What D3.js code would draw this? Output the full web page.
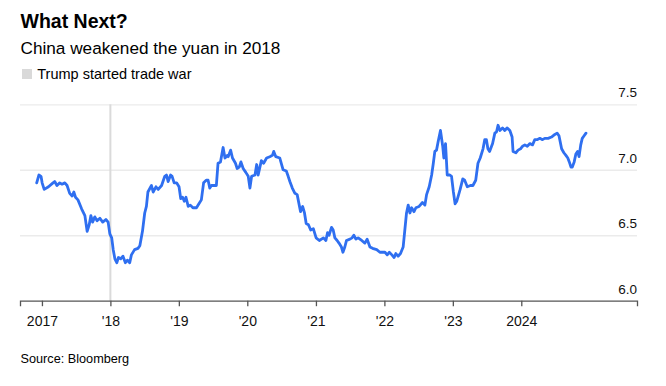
<!DOCTYPE html>
<html>
<head>
<meta charset="utf-8">
<script src="https://cdn.jsdelivr.net/npm/d3@7"></script>
<style>
  html, body { margin: 0; padding: 0; background: #fff; }
  svg { display: block; font-family: "Liberation Sans", Arial, sans-serif; }
  .grid line { stroke: #ebebeb; stroke-width: 1.3; }
  .grid .domain { display: none; }
  .axis text { fill: #111; }
  .axis-y text { font-size: 13.5px; }
  .axis-x text { font-size: 14px; }
</style>
</head>
<body>
<div id="chart"></div>
<script>
// USD/CNY
const dates = [
  "2016-12-04","2016-12-16","2016-12-27","2017-01-02","2017-01-13","2017-02-05","2017-03-01","2017-03-10",
  "2017-03-22","2017-04-06","2017-04-18","2017-05-03","2017-05-15","2017-05-29","2017-06-11","2017-06-20",
  "2017-06-29","2017-07-12","2017-08-01","2017-08-18","2017-08-30","2017-09-10","2017-09-19","2017-09-28",
  "2017-10-10","2017-10-22","2017-11-06","2017-11-21","2017-12-08","2017-12-20","2017-12-29","2018-01-08",
  "2018-01-16","2018-01-25","2018-02-04","2018-02-13","2018-02-25","2018-03-09","2018-03-22","2018-04-02",
  "2018-04-14","2018-04-23","2018-05-10","2018-05-28","2018-06-07","2018-06-21","2018-07-03","2018-07-12",
  "2018-07-20","2018-08-08","2018-08-17","2018-09-01","2018-09-13","2018-10-01","2018-10-18","2018-10-27",
  "2018-11-05","2018-11-18","2018-11-26","2018-12-07","2018-12-20","2019-01-02","2019-01-11","2019-01-21",
  "2019-01-30","2019-02-08","2019-02-20","2019-03-03","2019-03-17","2019-04-05","2019-04-18","2019-05-01",
  "2019-05-13","2019-05-27","2019-06-06","2019-06-15","2019-06-24","2019-07-02","2019-07-20","2019-07-29",
  "2019-08-11","2019-08-25","2019-09-04","2019-09-16","2019-09-21","2019-10-04","2019-10-14","2019-10-30",
  "2019-11-08","2019-11-19","2019-11-28","2019-12-10","2019-12-24","2020-01-06","2020-01-15","2020-01-24",
  "2020-02-11","2020-02-20","2020-02-28","2020-03-16","2020-03-28","2020-04-13","2020-04-30","2020-05-14",
  "2020-05-21","2020-06-01","2020-06-22","2020-07-10","2020-07-27","2020-08-06","2020-08-15","2020-08-28",
  "2020-09-11","2020-09-23","2020-10-04","2020-10-11","2020-10-22","2020-11-01","2020-11-10","2020-11-22",
  "2020-12-04","2020-12-18","2021-01-02","2021-01-19","2021-02-10","2021-02-23","2021-03-04","2021-03-12",
  "2021-03-25","2021-04-03","2021-04-12","2021-04-24","2021-05-04","2021-05-17","2021-05-25","2021-06-04",
  "2021-06-13","2021-07-01","2021-07-13","2021-07-22","2021-08-02","2021-08-14","2021-09-02","2021-09-19",
  "2021-10-01","2021-10-16","2021-10-30","2021-11-21","2021-12-08","2022-01-04","2022-01-16","2022-01-27",
  "2022-02-10","2022-02-22","2022-03-03","2022-03-15","2022-03-28","2022-04-11","2022-04-20","2022-04-29",
  "2022-05-08","2022-05-17","2022-05-26","2022-06-08","2022-06-18","2022-07-05","2022-07-23","2022-08-05",
  "2022-08-14","2022-08-28","2022-09-10","2022-09-18","2022-09-27","2022-10-06","2022-10-14","2022-10-27",
  "2022-11-08","2022-11-14","2022-11-23","2022-12-02","2022-12-16","2022-12-25","2023-01-04","2023-01-13",
  "2023-01-22","2023-02-09","2023-02-23","2023-03-05","2023-03-19","2023-04-05","2023-04-18","2023-05-03",
  "2023-05-15","2023-05-27","2023-06-11","2023-06-20","2023-06-29","2023-07-07","2023-07-16","2023-08-01",
  "2023-08-13","2023-08-22","2023-08-30","2023-09-09","2023-09-23","2023-10-05","2023-10-17","2023-11-01",
  "2023-11-13","2023-11-18","2023-12-03","2023-12-15","2023-12-28","2024-01-08","2024-01-20","2024-02-02",
  "2024-02-16","2024-03-01","2024-03-13","2024-03-25","2024-04-09","2024-04-23","2024-05-05","2024-05-23",
  "2024-06-10","2024-06-28","2024-07-10","2024-07-20","2024-08-03","2024-08-15","2024-08-26","2024-09-05",
  "2024-09-13","2024-09-22","2024-09-29","2024-10-09","2024-10-18","2024-10-27","2024-11-04","2024-11-13",
  "2024-11-21","2024-12-01","2024-12-11"
];

const usdCny = [
  6.90, 6.96, 6.95, 6.90, 6.85, 6.87, 6.90, 6.91,
  6.88, 6.90, 6.89, 6.90, 6.88, 6.82, 6.80, 6.83,
  6.79, 6.77, 6.70, 6.65, 6.53, 6.58, 6.65, 6.60,
  6.64, 6.61, 6.63, 6.60, 6.62, 6.60, 6.51, 6.48,
  6.39, 6.32, 6.29, 6.33, 6.32, 6.34, 6.29, 6.31,
  6.29, 6.35, 6.39, 6.40, 6.42, 6.53, 6.67, 6.72,
  6.83, 6.88, 6.83, 6.87, 6.85, 6.88, 6.95, 6.96,
  6.91, 6.96, 6.95, 6.90, 6.90, 6.87, 6.78, 6.79,
  6.76, 6.79, 6.72, 6.73, 6.71, 6.71, 6.74, 6.77,
  6.90, 6.92, 6.92, 6.86, 6.88, 6.88, 6.88, 7.05,
  7.06, 7.17, 7.09, 7.11, 7.10, 7.15, 7.09, 7.05,
  7.01, 7.02, 7.06, 7.01, 6.98, 6.95, 6.86, 6.95,
  6.96, 7.04, 6.96, 7.07, 7.05, 7.09, 7.10, 7.11,
  7.14, 7.10, 7.09, 7.00, 6.99, 6.95, 6.91, 6.86,
  6.82, 6.81, 6.73, 6.68, 6.72, 6.67, 6.59, 6.58,
  6.54, 6.55, 6.48, 6.46, 6.48, 6.46, 6.52, 6.50,
  6.56, 6.54, 6.48, 6.46, 6.44, 6.41, 6.37, 6.41,
  6.46, 6.47, 6.48, 6.50, 6.47, 6.48, 6.46, 6.44,
  6.47, 6.41, 6.40, 6.39, 6.37, 6.37, 6.35, 6.37,
  6.35, 6.33, 6.36, 6.34, 6.36, 6.41, 6.54, 6.67,
  6.73, 6.67, 6.71, 6.68, 6.71, 6.72, 6.75, 6.73,
  6.81, 6.87, 6.96, 7.04, 7.14, 7.15, 7.21, 7.30,
  7.18, 7.09, 7.20, 6.96, 6.96, 6.95, 6.83, 6.74,
  6.76, 6.85, 6.93, 6.92, 6.87, 6.88, 6.88, 6.92,
  7.05, 7.09, 7.16, 7.23, 7.23, 7.16, 7.14, 7.20,
  7.28, 7.29, 7.34, 7.30, 7.32, 7.30, 7.32, 7.30,
  7.25, 7.14, 7.13, 7.15, 7.16, 7.18, 7.19, 7.18,
  7.20, 7.19, 7.23, 7.23, 7.24, 7.23, 7.24, 7.24,
  7.25, 7.27, 7.28, 7.26, 7.16, 7.13, 7.11, 7.09,
  7.06, 7.02, 7.02, 7.06, 7.12, 7.14, 7.10, 7.19,
  7.24, 7.26, 7.28
];

const xTickDates = ["2017-01-01","2018-01-01","2019-01-01","2020-01-01","2021-01-01","2022-01-01","2023-01-01","2024-01-01"];
const xTickLabels = ["2017", "'18", "'19", "'20", "'21", "'22", "'23", "2024"];
const yTicks = [6.0, 6.5, 7.0, 7.5];
const tradeWarDate = "2018-01-01";
const xDomain = ["2016-09-06", "2025-09-09"];

const title = "What Next?";
const subtitle = "China weakened the yuan in 2018";
const legendLabel = "Trump started trade war";
const source = "Source: Bloomberg";

const width = 666;
const height = 386;
const margin = { top: 104.3, right: 29, bottom: 85.3, left: 20 };
const innerWidth = width - margin.left - margin.right;
const innerHeight = height - margin.top - margin.bottom;

const parse = d3.utcParse("%Y-%m-%d");
const data = dates.map((d, i) => ({ date: parse(d), value: usdCny[i] }));

const svg = d3.select("#chart")
  .append("svg")
  .attr("width", width)
  .attr("height", height);

svg.append("text")
  .attr("x", 20.5)
  .attr("y", 28.3)
  .attr("font-size", 19.5)
  .attr("font-weight", "bold")
  .attr("fill", "#000")
  .text(title);

svg.append("text")
  .attr("x", 20.5)
  .attr("y", 54.3)
  .attr("font-size", 17.2)
  .attr("fill", "#000")
  .text(subtitle);

svg.append("rect")
  .attr("x", 22)
  .attr("y", 69)
  .attr("width", 10)
  .attr("height", 10)
  .attr("fill", "#d9d9d9");

svg.append("text")
  .attr("x", 37.3)
  .attr("y", 78.7)
  .attr("font-size", 14.5)
  .attr("fill", "#000")
  .text(legendLabel);

svg.append("text")
  .attr("x", 20.5)
  .attr("y", 362.7)
  .attr("font-size", 12.7)
  .attr("fill", "#000")
  .text(source);

const plot = svg.append("g").attr("transform", `translate(${margin.left}, ${margin.top})`);

const x = d3.scaleUtc()
  .domain(xDomain.map(parse))
  .range([0, innerWidth]);

const y = d3.scaleLinear()
  .domain([6.0, 7.5])
  .range([innerHeight, 0]);

// gridlines (6.0 is covered by the axis line)
plot.append("g")
  .attr("class", "grid")
  .call(d3.axisLeft(y).tickValues(yTicks.filter((t) => t > 6)).tickSize(-innerWidth).tickFormat(""));

// y labels sit above their gridlines, flush right
const yAxisG = plot.append("g")
  .attr("class", "axis axis-y")
  .attr("transform", `translate(${innerWidth}, 0)`)
  .call(d3.axisRight(y).tickValues(yTicks).tickSize(0).tickFormat(d3.format(".1f")));
yAxisG.select(".domain").remove();
yAxisG.selectAll("text")
  .attr("x", 0)
  .attr("y", 0)
  .attr("dy", -7.6)
  .attr("text-anchor", "end");

// trade war marker
plot.append("line")
  .attr("x1", x(parse(tradeWarDate)))
  .attr("x2", x(parse(tradeWarDate)))
  .attr("y1", 0)
  .attr("y2", innerHeight)
  .attr("stroke", "#dadada")
  .attr("stroke-width", 2);

const xAxis = d3.axisBottom(x)
  .tickValues(xTickDates.map(parse))
  .tickSize(5.5)
  .tickPadding(10)
  .tickFormat((d, i) => xTickLabels[i]);

const xAxisG = plot.append("g")
  .attr("class", "axis axis-x")
  .attr("transform", `translate(0, ${innerHeight})`)
  .call(xAxis);
xAxisG.select(".domain").attr("stroke", "#555").attr("stroke-width", 1.3);
xAxisG.selectAll(".tick line").attr("stroke", "#555").attr("stroke-width", 1.3);

const lineGenerator = d3.line()
  .x((d) => x(d.date))
  .y((d) => y(d.value));

plot.append("path")
  .datum(data)
  .attr("fill", "none")
  .attr("stroke", "#2f6ff0")
  .attr("stroke-width", 2.8)
  .attr("stroke-linejoin", "round")
  .attr("stroke-linecap", "round")
  .attr("d", lineGenerator);
</script>
</body>
</html>
